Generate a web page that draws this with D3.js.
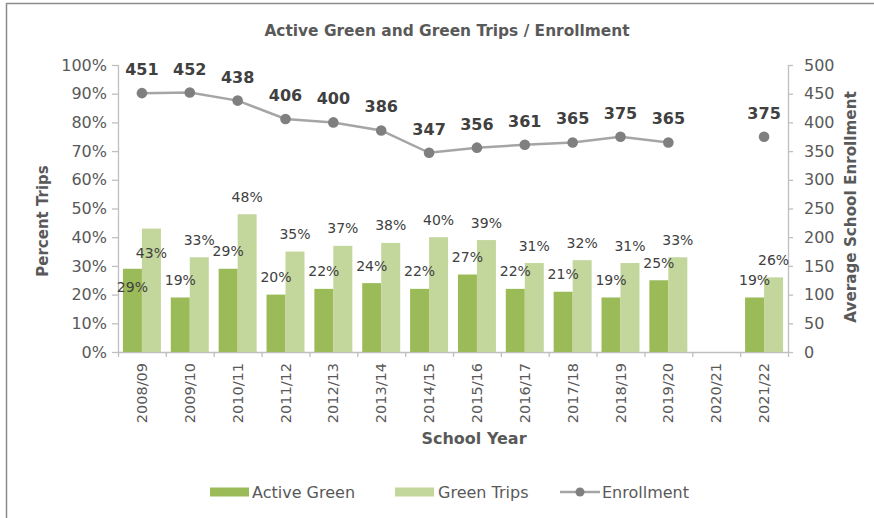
<!DOCTYPE html>
<html>
<head>
<meta charset="utf-8">
<script src="https://cdn.jsdelivr.net/npm/d3@7"></script>
<style>
  html, body { margin: 0; padding: 0; background: #fff; }
  svg { display: block; }
  text { font-family: "Century Gothic", "DejaVu Sans", sans-serif; }
</style>
</head>
<body>
<svg id="chart" width="874" height="518"></svg>
<script>
// School years on the category axis
const years = ["2008/09", "2009/10", "2010/11", "2011/12", "2012/13", "2013/14", "2014/15",
               "2015/16", "2016/17", "2017/18", "2018/19", "2019/20", "2020/21", "2021/22"];
// Share of trips (percent); 2020/21 has no survey
const activeGreen = [29, 19, 29, 20, 22, 24, 22, 27, 22, 21, 19, 25, null, 19];
const greenTrips  = [43, 33, 48, 35, 37, 38, 40, 39, 31, 32, 31, 33, null, 26];
// Average school enrollment
const enrollment  = [451, 452, 438, 406, 400, 386, 347, 356, 361, 365, 375, 365, null, 375];
// Axis ticks
const pctTicks = [0, 10, 20, 30, 40, 50, 60, 70, 80, 90, 100];
const enrTicks = [0, 50, 100, 150, 200, 250, 300, 350, 400, 450, 500];

const colActive = "#9bbb59";
const colGreen  = "#c3d69b";
const colLine   = "#a5a5a5";
const colMarker = "#7f7f7f";
const colText   = "#595959";
const colAxis   = "#bfbfbf";

const svg = d3.select("#chart");
const plotL = 118, plotR = 788, plotT = 65, plotB = 352;

// Chart frame
svg.append("line").attr("x1", 6).attr("x2", 874).attr("y1", 3.5).attr("y2", 3.5)
  .attr("stroke", "#8c8c8c").attr("stroke-width", 1.5);
svg.append("line").attr("x1", 6.5).attr("x2", 6.5).attr("y1", 3).attr("y2", 518)
  .attr("stroke", "#8c8c8c").attr("stroke-width", 1.5);

const x = d3.scaleBand().domain(years).range([plotL, plotR]).padding(0);
const xs = d3.scaleBand().domain(["active", "green"]).range([0, x.bandwidth()])
  .paddingInner(0).paddingOuter(0.26);
const y = d3.scaleLinear().domain([0, 100]).range([plotB, plotT]);
const yr = d3.scaleLinear().domain([0, 500]).range([plotB, plotT]);

// Title
svg.append("text").attr("x", 447).attr("y", 36).attr("text-anchor", "middle")
  .attr("font-size", 15.4).attr("font-weight", "bold").attr("fill", colText)
  .text("Active Green and Green Trips / Enrollment");

// Left axis
const gL = svg.append("g").attr("transform", `translate(${plotL},0)`)
  .call(d3.axisLeft(y).tickValues(pctTicks).tickFormat(d => d + "%").tickSize(6).tickPadding(5));
// Right axis
const gR = svg.append("g").attr("transform", `translate(${plotR},0)`)
  .call(d3.axisRight(yr).tickValues(enrTicks).tickSize(5).tickPadding(11));
[gL, gR].forEach(g => {
  g.selectAll(".domain").attr("stroke", colAxis).attr("stroke-width", 1.3)
    .attr("d", `M0.5,${plotT}V${plotB}`);
  g.selectAll(".tick line").attr("stroke", colAxis).attr("stroke-width", 1.3);
  g.selectAll(".tick text").attr("fill", colText).attr("font-size", 16)
    .attr("font-family", "'Century Gothic', 'DejaVu Sans', sans-serif");
});

// Bottom axis: baseline and category boundary ticks
svg.append("line").attr("x1", plotL).attr("x2", plotR).attr("y1", plotB + 0.5).attr("y2", plotB + 0.5)
  .attr("stroke", colAxis).attr("stroke-width", 1.3);
const bounds = years.map(d => x(d)).concat([x(years[years.length - 1]) + x.bandwidth()]);
svg.append("g").selectAll("line").data(bounds).join("line")
  .attr("x1", d => d + 0.5).attr("x2", d => d + 0.5)
  .attr("y1", plotB).attr("y2", plotB + 5)
  .attr("stroke", colAxis).attr("stroke-width", 1.3);
svg.append("g").selectAll("text").data(years).join("text")
  .attr("transform", d => `translate(${x(d) + x.bandwidth() / 2},363) rotate(-90)`)
  .attr("text-anchor", "end").attr("dominant-baseline", "central")
  .attr("font-size", 14.5).attr("fill", colText).text(d => d);

// Axis titles
svg.append("text").attr("transform", "translate(43,221) rotate(-90)")
  .attr("text-anchor", "middle").attr("dominant-baseline", "central")
  .attr("font-size", 15).attr("font-weight", "bold").attr("fill", colText).text("Percent Trips");
svg.append("text").attr("transform", "translate(851,207) rotate(-90)")
  .attr("text-anchor", "middle").attr("dominant-baseline", "central")
  .attr("font-size", 15.2).attr("font-weight", "bold").attr("fill", colText).text("Average School Enrollment");
svg.append("text").attr("x", 474).attr("y", 444).attr("text-anchor", "middle")
  .attr("font-size", 16).attr("font-weight", "bold").attr("fill", colText).text("School Year");

// Bars
const rows = years.map((yy, i) => ({ year: yy, i, active: activeGreen[i], green: greenTrips[i], enr: enrollment[i] }));
const barData = [];
rows.forEach(r => {
  if (r.active != null) barData.push({ key: "active", year: r.year, i: r.i, v: r.active });
  if (r.green != null) barData.push({ key: "green", year: r.year, i: r.i, v: r.green });
});
svg.append("g").selectAll("rect").data(barData).join("rect")
  .attr("x", d => x(d.year) + xs(d.key))
  .attr("width", xs.bandwidth())
  .attr("y", d => y(d.v))
  .attr("height", d => plotB - y(d.v))
  .attr("fill", d => d.key === "active" ? colActive : colGreen);

// Bar value labels (first season's labels sit inside the bars)
svg.append("g").selectAll("text").data(barData).join("text")
  .attr("x", d => x(d.year) + xs(d.key) + xs.bandwidth() / 2)
  .attr("y", d => d.i === 0 ? y(d.v) + (d.key === "active" ? 23 : 29) : y(d.v) - 12.5)
  .attr("text-anchor", "middle").attr("font-size", 14).attr("fill", "#404040")
  .text(d => d.v + "%");

// Enrollment line
const cx = d => x(d.year) + x.bandwidth() / 2;
svg.append("path").datum(rows)
  .attr("d", d3.line().defined(d => d.enr != null).x(cx).y(d => yr(d.enr)))
  .attr("fill", "none").attr("stroke", colLine).attr("stroke-width", 2.5);
const pts = rows.filter(d => d.enr != null);
svg.append("g").selectAll("circle").data(pts).join("circle")
  .attr("cx", cx).attr("cy", d => yr(d.enr)).attr("r", 5.3).attr("fill", colMarker);
svg.append("g").selectAll("text").data(pts).join("text")
  .attr("x", cx).attr("y", d => yr(d.enr) - 18).attr("text-anchor", "middle")
  .attr("font-size", 16).attr("font-weight", "bold").attr("fill", "#404040")
  .text(d => d.enr);

// Legend
const lg = svg.append("g");
const ly = 492;
lg.append("rect").attr("x", 210).attr("y", ly - 4.5).attr("width", 39).attr("height", 9).attr("fill", colActive);
lg.append("text").attr("x", 252).attr("y", ly).attr("dominant-baseline", "central")
  .attr("font-size", 16).attr("fill", colText).text("Active Green");
lg.append("rect").attr("x", 395).attr("y", ly - 4.5).attr("width", 39).attr("height", 9).attr("fill", colGreen);
lg.append("text").attr("x", 438).attr("y", ly).attr("dominant-baseline", "central")
  .attr("font-size", 16).attr("fill", colText).text("Green Trips");
lg.append("line").attr("x1", 560).attr("x2", 600).attr("y1", ly).attr("y2", ly)
  .attr("stroke", colLine).attr("stroke-width", 2.5);
lg.append("circle").attr("cx", 580).attr("cy", ly).attr("r", 4.5).attr("fill", colMarker);
lg.append("text").attr("x", 602).attr("y", ly).attr("dominant-baseline", "central")
  .attr("font-size", 16).attr("fill", colText).text("Enrollment");
</script>
</body>
</html>
